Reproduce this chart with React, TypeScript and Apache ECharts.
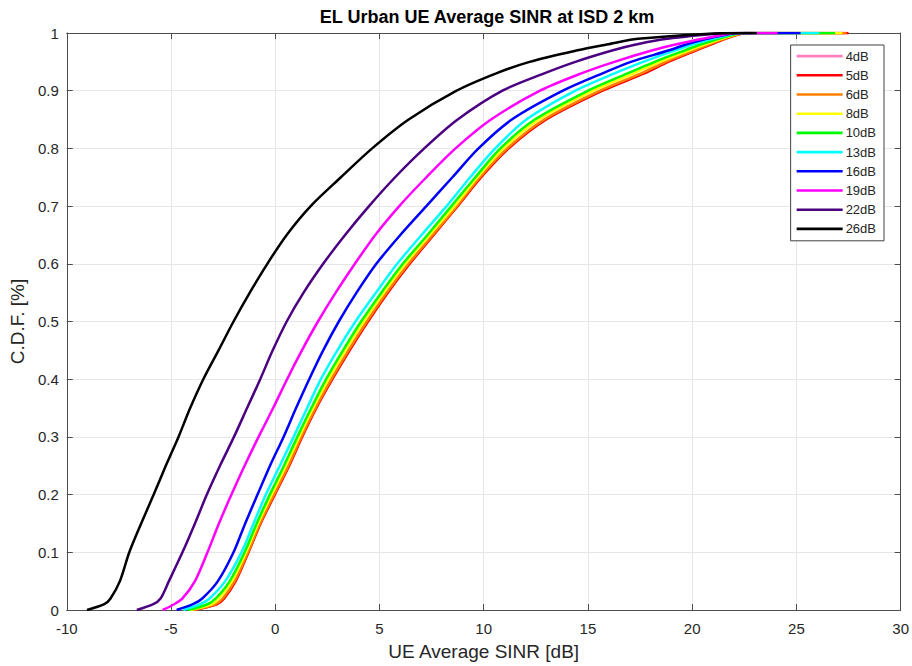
import React, { useEffect, useRef } from "react";
import * as echarts from "echarts";

const cdfLevels = [0, 0.01, 0.02, 0.05, 0.1, 0.15, 0.2, 0.25, 0.3, 0.35, 0.4, 0.45, 0.5, 0.55, 0.6, 0.65, 0.7, 0.75, 0.8, 0.85, 0.9, 0.93, 0.95, 0.97, 0.98, 0.99, 1, 1];

const seriesNames = ["4dB", "5dB", "6dB", "8dB", "10dB", "13dB", "16dB", "19dB", "22dB", "26dB"];
const seriesColors = ["#ff7fbf", "#ff0000", "#ff8000", "#ffff00", "#00ff00", "#00ffff", "#0000ff", "#ff00ff", "#4b0082", "#000000"];

const sinr4 = [-3.96, -2.83, -2.48, -1.92, -1.3, -0.72, -0.04, 0.65, 1.27, 1.95, 2.72, 3.55, 4.43, 5.38, 6.43, 7.58, 8.73, 9.85, 11.17, 12.95, 15.65, 17.65, 18.8, 20.15, 20.85, 21.57, 22.6, 27.35];
const sinr5 = [-3.94, -2.8, -2.45, -1.9, -1.28, -0.7, -0.02, 0.67, 1.29, 1.97, 2.74, 3.57, 4.45, 5.4, 6.45, 7.6, 8.75, 9.88, 11.2, 13.0, 15.7, 17.7, 18.85, 20.2, 20.9, 21.6, 22.6, 27.5];
const sinr6 = [-3.98, -2.88, -2.52, -1.95, -1.31, -0.73, -0.06, 0.63, 1.25, 1.93, 2.69, 3.51, 4.39, 5.34, 6.39, 7.55, 8.71, 9.82, 11.13, 12.9, 15.57, 17.55, 18.73, 20.1, 20.8, 21.54, 22.58, 27.4];
const sinr8 = [-4.1, -3.05, -2.7, -2.08, -1.4, -0.82, -0.17, 0.51, 1.15, 1.82, 2.55, 3.36, 4.24, 5.2, 6.24, 7.4, 8.6, 9.7, 10.95, 12.65, 15.25, 17.2, 18.45, 19.85, 20.6, 21.4, 22.52, 27.2];
const sinr10 = [-4.2, -3.25, -2.85, -2.18, -1.47, -0.89, -0.26, 0.42, 1.06, 1.73, 2.44, 3.25, 4.12, 5.09, 6.12, 7.3, 8.45, 9.6, 10.8, 12.45, 15.0, 16.9, 18.2, 19.65, 20.4, 21.27, 22.5, 26.85];
const sinr13 = [-4.41, -3.6, -3.15, -2.4, -1.62, -1.04, -0.45, 0.22, 0.88, 1.53, 2.19, 2.98, 3.85, 4.83, 5.85, 7.02, 8.22, 9.35, 10.55, 12.05, 14.4, 16.27, 17.65, 19.2, 20.0, 21.0, 22.4, 26.1];
const sinr16 = [-4.73, -3.95, -3.5, -2.75, -2.0, -1.44, -0.85, -0.25, 0.4, 1.0, 1.63, 2.3, 3.05, 3.9, 4.85, 6.0, 7.25, 8.5, 9.75, 11.35, 13.8, 15.7, 17.06, 18.9, 19.7, 20.7, 22.3, 25.2];
const sinr19 = [-5.4, -4.85, -4.45, -3.85, -3.25, -2.7, -2.1, -1.47, -0.8, -0.1, 0.57, 1.28, 2.05, 2.9, 3.82, 4.8, 5.95, 7.25, 8.65, 10.35, 12.7, 14.68, 16.27, 18.1, 19.2, 20.5, 22.2, 24.1];
const sinr22 = [-6.64, -5.85, -5.5, -5.1, -4.45, -3.85, -3.28, -2.65, -1.98, -1.35, -0.72, -0.12, 0.55, 1.36, 2.3, 3.35, 4.5, 5.75, 7.15, 8.75, 10.9, 12.9, 14.4, 16.2, 17.3, 18.8, 22.0, 22.9];
const sinr26 = [-9.03, -8.2, -7.9, -7.45, -7.0, -6.43, -5.83, -5.25, -4.64, -4.08, -3.45, -2.72, -2.0, -1.22, -0.38, 0.55, 1.7, 3.15, 4.65, 6.4, 8.7, 10.6, 12.2, 14.5, 15.9, 17.4, 22.3, 23.1];

const seriesValues = [sinr4, sinr5, sinr6, sinr8, sinr10, sinr13, sinr16, sinr19, sinr22, sinr26];

const FONT = "'Liberation Sans', Arial, Helvetica, sans-serif";
const AXIS_COLOR = "#4d4d4d";
const TEXT_COLOR = "#262626";
const LEGEND_ICON = "path://M0,0 L0.01,0 L0.01,0.01 L0,0.01 Z M0,5.8 L46,5.8 L46,8.4 L0,8.4 Z M45.99,13.99 L46,13.99 L46,14 L45.99,14 Z";

export default function App() {
  const ref = useRef<HTMLDivElement>(null);

  useEffect(() => {
    if (!ref.current) return;
    const chart = echarts.init(ref.current, null, { renderer: "svg" });

    const series = seriesNames.map((name, i) => ({
      name,
      type: "line",
      data: seriesValues[i].map((x, k) => [x, cdfLevels[k]]),
      showSymbol: false,
      symbol: "none",
      smooth: 0.3,
      lineStyle: { width: 2.5, color: seriesColors[i] },
      itemStyle: { color: seriesColors[i] },
      emphasis: { disabled: true },
      z: 2 + i,
    }));

    const option = {
      animation: false,
      backgroundColor: "#ffffff",
      title: {
        text: "EL Urban UE Average SINR at ISD 2 km",
        left: 482,
        textAlign: "center",
        top: 3,
        textStyle: { fontFamily: FONT, fontSize: 18, fontWeight: "bold", color: "#000000" },
      },
      grid: { left: 63, top: 33, right: 11, bottom: 55, containLabel: false },
      legend: {
        orient: "vertical",
        right: 28,
        top: 45,
        data: seriesNames.map((n) => ({ name: n, icon: LEGEND_ICON })),
        itemWidth: 46,
        itemHeight: 14,
        itemGap: 5.2,
        padding: [4, 8, 5, 6],
        backgroundColor: "#ffffff",
        borderColor: "#404040",
        borderWidth: 1,
        borderRadius: 0,
        textStyle: { fontFamily: FONT, fontSize: 13, color: TEXT_COLOR, lineHeight: 14, padding: [0, 0, 0, -2] },
      },
      xAxis: [
        {
          type: "value",
          min: -10,
          max: 30,
          interval: 5,
          name: "UE Average SINR [dB]",
          nameLocation: "middle",
          nameGap: 32,
          nameTextStyle: { fontFamily: FONT, fontSize: 19, color: TEXT_COLOR },
          axisLine: { show: true, onZero: false, lineStyle: { color: AXIS_COLOR, width: 1 } },
          axisTick: { show: true, inside: true, length: 6, lineStyle: { color: AXIS_COLOR } },
          axisLabel: { fontFamily: FONT, fontSize: 15, color: TEXT_COLOR, margin: 11 },
          splitLine: { show: true, lineStyle: { color: "#e6e6e6", width: 1 } },
        },
        {
          type: "value",
          position: "top",
          min: -10,
          max: 30,
          interval: 5,
          axisLine: { show: true, onZero: false, lineStyle: { color: AXIS_COLOR, width: 1 } },
          axisTick: { show: true, inside: true, length: 6, lineStyle: { color: AXIS_COLOR } },
          axisLabel: { show: false },
          splitLine: { show: false },
        },
      ],
      yAxis: [
        {
          type: "value",
          min: 0,
          max: 1,
          interval: 0.1,
          name: "C.D.F. [%]",
          nameLocation: "middle",
          nameGap: 33,
          nameTextStyle: { fontFamily: FONT, fontSize: 19, color: TEXT_COLOR },
          axisLine: { show: true, onZero: false, lineStyle: { color: AXIS_COLOR, width: 1 } },
          axisTick: { show: true, inside: true, length: 6, lineStyle: { color: AXIS_COLOR } },
          axisLabel: { fontFamily: FONT, fontSize: 15, color: TEXT_COLOR, margin: 8 },
          splitLine: { show: true, lineStyle: { color: "#e6e6e6", width: 1 } },
        },
        {
          type: "value",
          position: "right",
          min: 0,
          max: 1,
          interval: 0.1,
          axisLine: { show: true, onZero: false, lineStyle: { color: AXIS_COLOR, width: 1 } },
          axisTick: { show: true, inside: true, length: 6, lineStyle: { color: AXIS_COLOR } },
          axisLabel: { show: false },
          splitLine: { show: false },
        },
      ],
      series,
    };

    chart.setOption(option as any);
    return () => chart.dispose();
  }, []);

  return (
    <div
      ref={ref}
      style={{ position: "fixed", left: 0, top: 0, width: 912, height: 666, background: "#fff" }}
    />
  );
}
